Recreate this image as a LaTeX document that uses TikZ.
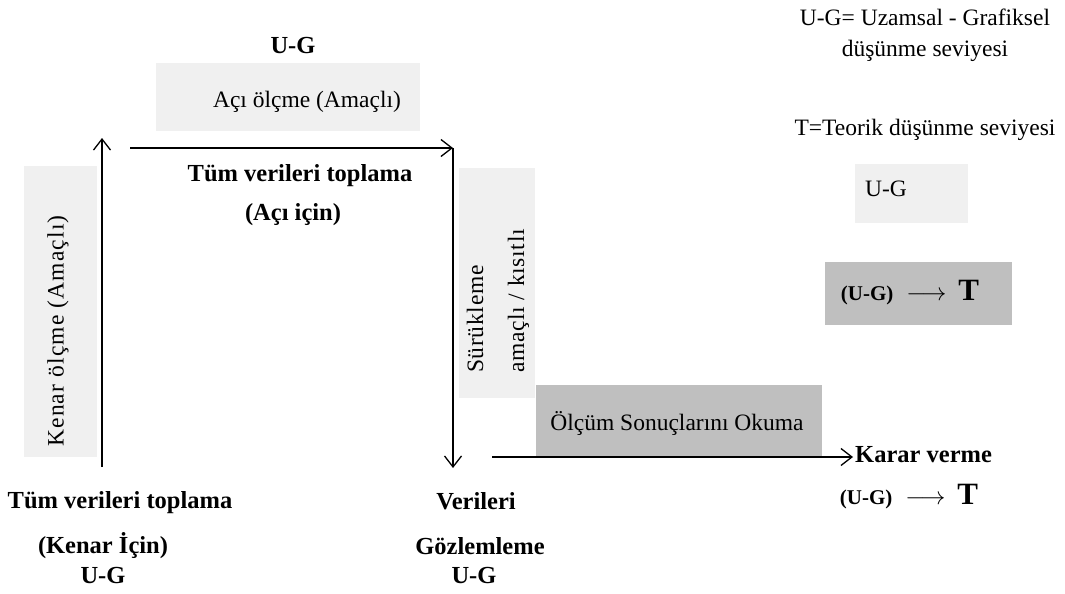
\documentclass[tikz,border=0pt]{standalone}
\usepackage{fontspec}
\setmainfont{Liberation Serif}
\usetikzlibrary{arrows.meta}
\definecolor{boxlight}{HTML}{F0F0F0}
\definecolor{boxdark}{HTML}{BFBFBF}
\newcommand{\ugarrowT}{{\fontsize{21}{24}\selectfont\bfseries (U-G)}\hspace{13pt}{\fontsize{23}{26}\selectfont$\longrightarrow$}\hspace{12pt}{\fontsize{31}{32}\selectfont\bfseries T}}
\begin{document}
\begin{tikzpicture}[x=1pt,y=-1pt,
  lightbox/.style={fill=boxlight, draw=none, inner sep=0pt},
  darkbox/.style={fill=boxdark, draw=none, inner sep=0pt},
  reg/.style={font=\fontsize{23.5}{27}\selectfont, inner sep=0pt},
  bld/.style={font=\fontsize{24.5}{28}\selectfont\bfseries, inner sep=0pt},
  flow/.style={line width=1.3pt, -{Straight Barb[length=11pt,width=17pt,line width=1.3pt]}}
]
\useasboundingbox (0,0) rectangle (1065,594);
% boxes
\node[lightbox, minimum width=264, minimum height=68] (acibox) at (288,97) {};
\node[lightbox, minimum width=73, minimum height=291] (kenarbox) at (60.5,311.5) {};
\node[lightbox, minimum width=76, minimum height=230] (surbox) at (497,283) {};
\node[darkbox, minimum width=286, minimum height=72] (olcbox) at (679,421) {};
\node[lightbox, minimum width=113, minimum height=59] (ugbox) at (911.5,193.5) {};
\node[darkbox, minimum width=187, minimum height=63] (ugtbox) at (918.5,293.5) {};
% arrow end points
\coordinate (upS) at (102,467);
\coordinate (upE) at (102,138);
\coordinate (rtS) at (130,148);
\coordinate (rtE) at (453,148);
\coordinate (dnE) at (453,468);
\coordinate (btS) at (492,457);
\coordinate (btE) at (853,457);
\draw[flow] (upS) -- (upE);
\draw[flow] (rtS) -- (rtE);
\draw[flow] (rtE) -- (dnE);
\draw[flow] (btS) -- (btE);
% texts
\node[bld] (ug1) at (293,46) {U-G};
\node[reg] (aci) at (307,102) {Açı ölçme (Amaçlı)};
\node[bld] (tum1) at (300,176) {Tüm verileri toplama};
\node[bld] (aciicin) at (293,215) {(Açı için)};
\node[reg, rotate=90, font=\fontsize{23.5}{27}\selectfont\addfontfeature{LetterSpace=5}] (kenar) at (58,331) {Kenar ölçme (Amaçlı)};
\node[reg, rotate=90, anchor=west, align=left, font=\fontsize{23.5}{41}\selectfont\addfontfeature{LetterSpace=3}] (sur) at (498,373) {Sürükleme\\amaçlı / kısıtlı};
\node[reg] (olc) at (677,423) {Ölçüm Sonuçlarını Okuma};
\node[bld, anchor=west] (karar) at (855,455) {Karar verme};
\node[inner sep=0pt] (ugt2) at (909,497) {\ugarrowT};
\node[reg] (leg1) at (925,17) {U-G= Uzamsal - Grafiksel};
\node[reg] (leg2) at (925,51) {düşünme seviyesi};
\node[reg] (leg3) at (925,130) {T=Teorik düşünme seviyesi};
\node[reg] (ug2) at (886,189) {U-G};
\node[inner sep=0pt] (ugt1) at (910,293) {\ugarrowT};
\node[bld] (tum2) at (120,503) {Tüm verileri toplama};
\node[bld] (kenaricin) at (103,546) {(Kenar İçin)};
\node[bld] (ug3) at (103,576) {U-G};
\node[bld] (verileri) at (476,501) {Verileri};
\node[bld] (gozlem) at (480,546) {Gözlemleme};
\node[bld] (ug4) at (474,576) {U-G};
\end{tikzpicture}
\end{document}
